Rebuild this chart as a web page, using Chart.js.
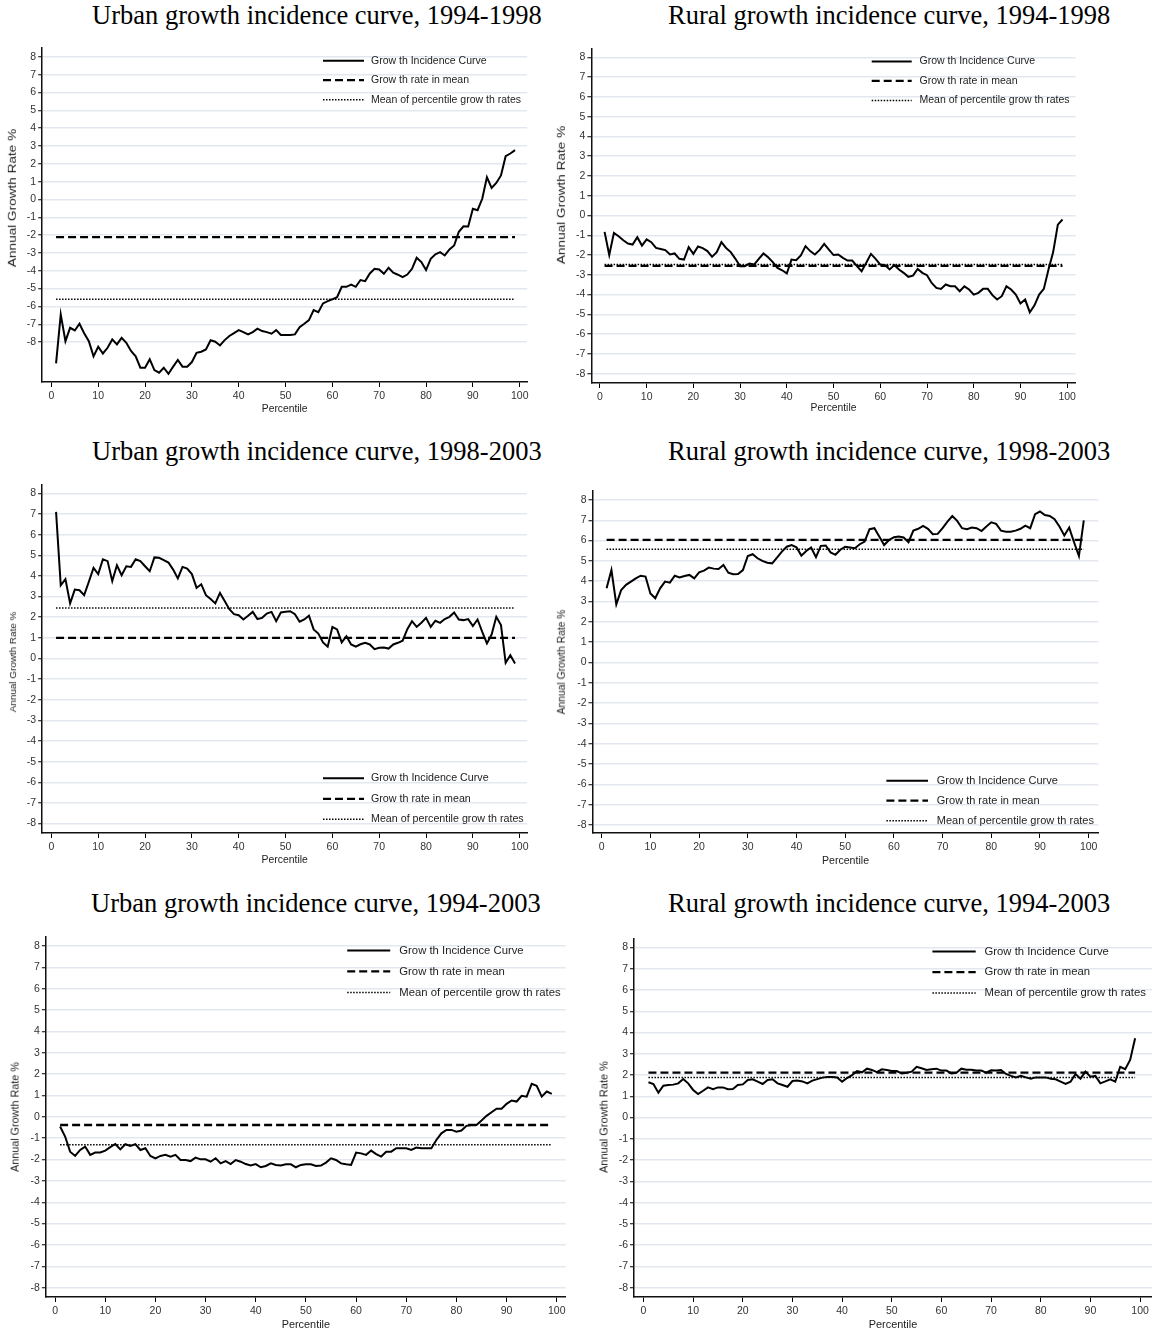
<!DOCTYPE html>
<html>
<head>
<meta charset="utf-8">
<script src="https://cdn.jsdelivr.net/npm/chart.js@4.4.0/dist/chart.umd.min.js"></script>
<style>
body{margin:0;background:#fff;width:1152px;height:1338px;position:relative;overflow:hidden;font-family:"Liberation Sans",Arial,sans-serif}
canvas{position:absolute}
.ttl{position:absolute;font-family:"Liberation Serif","Times New Roman",serif;font-size:26.5px;line-height:1;white-space:nowrap;color:#000;transform:translate(-50%,-50%)}
.xt,.yt{position:absolute;line-height:1;white-space:nowrap;color:#222}
</style>
</head>
<body>
<script>
// percentiles on the x axis
var percentiles = [1,2,3,4,5,6,7,8,9,10,11,12,13,14,15,16,17,18,19,20,21,22,23,24,25,26,27,28,29,30,
  31,32,33,34,35,36,37,38,39,40,41,42,43,44,45,46,47,48,49,50,51,52,53,54,55,56,57,58,59,60,
  61,62,63,64,65,66,67,68,69,70,71,72,73,74,75,76,77,78,79,80,81,82,83,84,85,86,87,88,89,90,
  91,92,93,94,95,96,97,98,99];
var xTicks = [0,10,20,30,40,50,60,70,80,90,100];
var yTicks = [-8,-7,-6,-5,-4,-3,-2,-1,0,1,2,3,4,5,6,7,8];
var legendLabels = ['Grow th Incidence Curve','Grow th rate in mean','Mean of percentile grow th rates'];

// growth incidence curves, annual growth rate %
var urban9498 = [-9.2,-6.45,-7.95,-7.2,-7.35,-6.97,-7.5,-7.95,-8.8,-8.26,
  -8.64,-8.32,-7.85,-8.13,-7.76,-8.04,-8.5,-8.8,-9.44,-9.44,
  -8.97,-9.57,-9.72,-9.44,-9.78,-9.38,-9.0,-9.38,-9.38,-9.12,
  -8.6,-8.54,-8.41,-7.9,-7.98,-8.19,-7.89,-7.66,-7.5,-7.33,
  -7.44,-7.57,-7.44,-7.25,-7.38,-7.44,-7.53,-7.33,-7.6,-7.6,
  -7.6,-7.57,-7.16,-6.97,-6.77,-6.2,-6.32,-5.83,-5.7,-5.6,
  -5.48,-4.9,-4.9,-4.77,-4.9,-4.52,-4.58,-4.15,-3.89,-3.93,
  -4.17,-3.83,-4.11,-4.22,-4.36,-4.21,-3.89,-3.27,-3.51,-3.96,
  -3.33,-3.08,-2.95,-3.14,-2.8,-2.58,-1.81,-1.5,-1.51,-0.52,
  -0.6,0.04,1.25,0.65,0.93,1.35,2.43,2.58,2.77];
var rural9498 = [-0.83,-2.0,-0.88,-1.05,-1.25,-1.42,-1.47,-1.1,-1.52,-1.21,
  -1.35,-1.64,-1.69,-1.75,-1.97,-1.92,-2.19,-2.23,-1.6,-1.94,
  -1.57,-1.65,-1.8,-2.09,-1.85,-1.35,-1.64,-1.85,-2.19,-2.56,
  -2.56,-2.43,-2.48,-2.19,-1.92,-2.11,-2.36,-2.65,-2.77,-2.93,
  -2.23,-2.26,-2.02,-1.55,-1.8,-1.97,-1.75,-1.43,-1.72,-2.0,
  -1.97,-2.14,-2.28,-2.28,-2.56,-2.82,-2.39,-1.94,-2.19,-2.48,
  -2.51,-2.73,-2.51,-2.73,-2.9,-3.1,-3.04,-2.7,-2.9,-3.02,
  -3.41,-3.66,-3.71,-3.49,-3.58,-3.58,-3.83,-3.58,-3.74,-4.0,
  -3.91,-3.71,-3.71,-4.03,-4.25,-4.08,-3.58,-3.74,-4.0,-4.45,
  -4.25,-4.89,-4.54,-4.0,-3.71,-2.73,-1.85,-0.46,-0.2];
var urban9803 = [7.11,3.55,3.85,2.67,3.34,3.31,3.07,3.72,4.39,4.09,
  4.81,4.72,3.75,4.52,4.04,4.47,4.44,4.81,4.72,4.47,
  4.23,4.9,4.88,4.77,4.65,4.31,3.88,4.44,4.36,4.09,
  3.42,3.6,3.07,2.88,2.67,3.18,2.79,2.39,2.15,2.1,
  1.89,2.07,2.26,1.91,1.97,2.18,2.26,1.81,2.23,2.26,
  2.29,2.15,1.78,1.89,2.07,1.41,1.21,0.78,0.57,1.53,
  1.41,0.78,1.08,0.68,0.57,0.69,0.76,0.68,0.45,0.52,
  0.53,0.48,0.68,0.76,0.86,1.42,1.81,1.53,1.73,1.97,
  1.53,1.83,1.73,1.91,2.02,2.23,1.89,1.86,1.91,1.57,
  1.89,1.29,0.73,1.16,2.02,1.62,-0.21,0.16,-0.24];
var rural9803 = [3.65,4.55,2.86,3.57,3.82,3.98,4.14,4.27,4.23,3.4,
  3.16,3.65,3.98,3.93,4.27,4.19,4.26,4.31,4.14,4.44,
  4.52,4.67,4.62,4.6,4.8,4.42,4.34,4.35,4.55,5.24,
  5.33,5.13,5.0,4.91,4.88,5.16,5.46,5.7,5.78,5.67,
  5.26,5.49,5.66,5.18,5.74,5.76,5.42,5.3,5.55,5.7,
  5.66,5.62,5.82,5.95,6.56,6.61,6.2,5.78,6.03,6.16,
  6.2,6.15,5.92,6.49,6.58,6.72,6.58,6.31,6.33,6.61,
  6.93,7.21,6.97,6.61,6.56,6.64,6.61,6.47,6.69,6.9,
  6.82,6.49,6.44,6.44,6.49,6.58,6.74,6.61,7.3,7.43,
  7.26,7.21,7.05,6.69,6.25,6.64,5.92,5.24,7.0];
var urban9403 = [-0.45,-0.92,-1.63,-1.83,-1.55,-1.39,-1.78,-1.67,-1.67,-1.58,
  -1.42,-1.27,-1.52,-1.28,-1.36,-1.28,-1.55,-1.47,-1.83,-1.94,
  -1.83,-1.78,-1.86,-1.78,-2.02,-2.02,-2.07,-1.91,-1.99,-1.99,
  -2.1,-1.94,-2.18,-2.07,-2.21,-2.02,-2.1,-2.21,-2.28,-2.21,
  -2.36,-2.3,-2.18,-2.25,-2.28,-2.22,-2.22,-2.36,-2.25,-2.22,
  -2.22,-2.3,-2.28,-2.14,-1.94,-2.02,-2.18,-2.22,-2.25,-1.67,
  -1.71,-1.78,-1.58,-1.74,-1.86,-1.63,-1.63,-1.47,-1.47,-1.47,
  -1.55,-1.44,-1.47,-1.47,-1.47,-1.08,-0.77,-0.61,-0.61,-0.69,
  -0.64,-0.42,-0.38,-0.38,-0.17,0.05,0.22,0.38,0.38,0.61,
  0.77,0.72,0.99,0.95,1.55,1.46,0.95,1.19,1.08];
var rural9403 = [1.66,1.58,1.17,1.5,1.53,1.55,1.61,1.81,1.61,1.3,
  1.11,1.26,1.42,1.34,1.42,1.42,1.33,1.34,1.53,1.56,
  1.77,1.8,1.69,1.58,1.77,1.8,1.61,1.53,1.45,1.72,
  1.74,1.7,1.61,1.74,1.81,1.88,1.91,1.91,1.89,1.69,
  1.86,2.0,2.19,2.13,2.3,2.24,2.14,2.27,2.24,2.19,
  2.19,2.08,2.11,2.16,2.39,2.32,2.24,2.27,2.3,2.21,
  2.21,2.08,2.11,2.3,2.25,2.25,2.21,2.21,2.11,2.22,
  2.21,2.24,2.05,1.96,1.89,1.97,1.89,1.83,1.89,1.89,
  1.89,1.83,1.8,1.69,1.58,1.69,2.05,1.83,2.16,1.92,
  1.96,1.61,1.7,1.8,1.69,2.39,2.28,2.71,3.73];

// growth rate in mean, mean of percentile growth rates
var meanRates = [-2.11, -2.55, 1.0, 6.03, -0.38, 2.11];
var pctMeanRates = [-5.6, -2.48, 2.45, 5.57, -1.31, 1.89];

var titles = ['Urban growth incidence curve, 1994-1998','Rural growth incidence curve, 1994-1998',
  'Urban growth incidence curve, 1998-2003','Rural growth incidence curve, 1998-2003',
  'Urban growth incidence curve, 1994-2003','Rural growth incidence curve, 1994-2003'];
var curves = [urban9498, rural9498, urban9803, rural9803, urban9403, rural9403];

// page layout of each panel (pixels)
var panels = [
 {ox:0,   L:42.2, R:527.2, T:48.3,  B:382.3,  xr:[-1.96,101.6], yr:[-10.24,8.5],
  lg:{x:323,len:41,tx:371,y:61,gap:19.5,f:10.5}, tt:[316.9,15], yt:[12.9,197.5,10.3,1.32], xt:[284.7,409.3,10.3]},
 {ox:576, L:591.4,R:1075.6,T:49.3,  B:383.3,  xr:[-1.82,101.8], yr:[-8.47,8.42],
  lg:{x:871.7,len:40,tx:919.5,y:61.7,gap:19.5,f:10.5}, tt:[889.2,15], yt:[562,195,10.3,1.32], xt:[833.5,408.3,10.3]},
 {ox:0,   L:42.2, R:527.2, T:485,   B:832.7,  xr:[-1.96,101.6], yr:[-8.46,8.41],
  lg:{x:323,len:41,tx:371,y:778.3,gap:20.5,f:10.7}, tt:[316.9,450.7], yt:[12.9,662,9.9,1], xt:[284.7,860,10.4]},
 {ox:576, L:592.5,R:1098.4,T:491,   B:833,    xr:[-1.89,102], yr:[-8.39,8.44],
  lg:{x:886.4,len:41.6,tx:936.8,y:780.7,gap:20,f:11}, tt:[889.2,450.7], yt:[562,662,10.3,1], xt:[845.5,860,10.6]},
 {ox:0,   L:45.9, R:565.8, T:937.3, B:1296.7, xr:[-1.83,101.8], yr:[-8.44,8.43],
  lg:{x:347.2,len:43,tx:399.3,y:950.7,gap:21,f:11.3}, tt:[315.9,903.3], yt:[14.7,1116.7,10.8,1], xt:[305.9,1324,10.9]},
 {ox:576, L:634,  R:1152,  T:939.3, B:1296.7, xr:[-1.91,102.4], yr:[-8.44,8.4],
  lg:{x:932.4,len:43.3,tx:984.5,y:951.7,gap:20.8,f:11.3}, tt:[889.2,903], yt:[603.6,1117,11,1], xt:[893,1324,10.9]}
];

Chart.defaults.font.family = '"Liberation Sans", Arial, sans-serif';

var legendPlugin = {
  id: 'gicLegend',
  afterDatasetsDraw: function(chart, args, o) {
    var ctx = chart.ctx;
    ctx.save();
    chart.data.datasets.forEach(function(ds, i) {
      var y = o.y + i * o.gap;
      ctx.beginPath();
      ctx.setLineDash(ds.borderDash || []);
      ctx.lineWidth = ds.borderWidth;
      ctx.strokeStyle = ds.borderColor;
      ctx.moveTo(o.x, y);
      ctx.lineTo(o.x + o.len, y);
      ctx.stroke();
      ctx.setLineDash([]);
      ctx.fillStyle = '#222';
      ctx.font = o.f + 'px "Liberation Sans", Arial, sans-serif';
      ctx.textBaseline = 'middle';
      ctx.fillText(ds.label, o.tx, y);
    });
    ctx.restore();
  }
};

function addText(cls, txt, x, y, css) {
  var d = document.createElement('div');
  d.className = cls;
  d.textContent = txt;
  d.style.left = x + 'px';
  d.style.top = y + 'px';
  for (var k in css) d.style[k] = css[k];
  document.body.appendChild(d);
}

panels.forEach(function(p, n) {
  var top = p.T - 12;
  var h = (p.B - p.T) + 12 + 28;
  var cv = document.createElement('canvas');
  cv.width = 576; cv.height = Math.ceil(h);
  cv.style.left = p.ox + 'px';
  cv.style.top = top + 'px';
  document.body.appendChild(cv);

  var vals = curves[n];
  var first = percentiles[0], last = percentiles[percentiles.length - 1];

  new Chart(cv, {
    type: 'line',
    data: {
      datasets: [
        {label: legendLabels[0], data: percentiles.map(function(x, i){ return {x:x, y:vals[i]}; }),
         borderColor:'#000', borderWidth:2, pointRadius:0, tension:0, fill:false},
        {label: legendLabels[1], data: [{x:first, y:meanRates[n]}, {x:last, y:meanRates[n]}],
         borderColor:'#000', borderWidth:2.3, borderDash:[8,4], pointRadius:0, fill:false},
        {label: legendLabels[2], data: [{x:first, y:pctMeanRates[n]}, {x:last, y:pctMeanRates[n]}],
         borderColor:'#000', borderWidth:1.5, borderDash:[1.5,1.5], pointRadius:0, fill:false}
      ]
    },
    options: {
      responsive: false,
      animation: false,
      devicePixelRatio: 1,
      layout: {padding: {top: 12, left: 0, bottom: 0, right: p.ox + 576 - p.R}},
      plugins: {
        legend: {display: false},
        tooltip: {enabled: false},
        gicLegend: {x: p.lg.x - p.ox, len: p.lg.len, tx: p.lg.tx - p.ox, y: p.lg.y - top, gap: p.lg.gap, f: p.lg.f}
      },
      scales: {
        x: {
          type: 'linear', min: p.xr[0], max: p.xr[1],
          afterBuildTicks: function(s){ s.ticks = xTicks.map(function(v){ return {value:v}; }); },
          afterFit: function(s){ s.height = 28; s.paddingLeft = 0; s.paddingRight = 0; },
          ticks: {autoSkip:false, maxRotation:0, padding:3, color:'#333', font:{size:10.5},
                  callback: function(v){ return String(v); }},
          grid: {drawOnChartArea:false, drawTicks:true, tickLength:5, tickColor:'#000', tickWidth:1},
          border: {display:true, color:'#111', width:1.5}
        },
        y: {
          type: 'linear', min: p.yr[0], max: p.yr[1],
          afterBuildTicks: function(s){ s.ticks = yTicks.map(function(v){ return {value:v}; }); },
          afterFit: function(s){ s.width = p.L - p.ox; s.paddingTop = 0; s.paddingBottom = 0; },
          ticks: {autoSkip:false, padding:2, color:'#333', font:{size:10.5},
                  callback: function(v){ return String(v); }},
          grid: {color:'#e3e8f0', lineWidth:1.5, drawTicks:true, tickLength:4, tickColor:'#000', tickWidth:1},
          border: {display:true, color:'#111', width:1.5}
        }
      }
    },
    plugins: [legendPlugin]
  });

  addText('ttl', titles[n], p.tt[0], p.tt[1], {});
  addText('yt', 'Annual Growth Rate %', p.yt[0], p.yt[1],
    {fontSize: p.yt[2] + 'px', transform: 'translate(-50%,-50%) rotate(-90deg) scale(' + p.yt[3] + ',1)'});
  addText('xt', 'Percentile', p.xt[0], p.xt[1],
    {fontSize: p.xt[2] + 'px', transform: 'translate(-50%,-50%)'});
});
</script>
</body>
</html>
